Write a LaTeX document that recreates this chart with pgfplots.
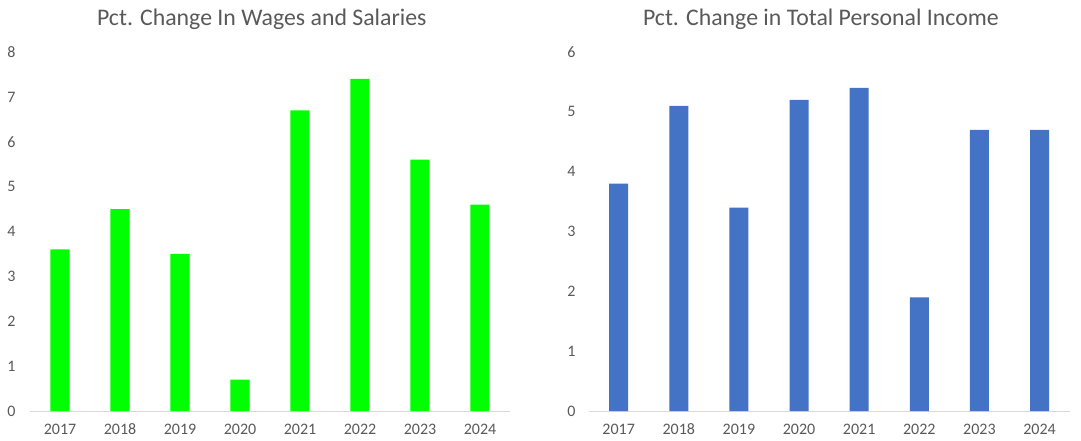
\documentclass[border=0pt]{standalone}
\usepackage{pgfplots}
\pgfplotsset{compat=1.18}
\usepackage{fontspec}
\setmainfont{Carlito}
\definecolor{txtgray}{HTML}{595959}
\definecolor{linegray}{HTML}{D9D9D9}
\definecolor{bargreen}{HTML}{00FF00}
\definecolor{barblue}{HTML}{4472C4}
\pgfplotsset{
  mybars/.style={
    scale only axis,
    anchor=south west,
    ybar,
    bar width=19pt,
    xmin=-0.5, xmax=7.5,
    ymin=0,
    xtick={0,...,7},
    xticklabels={2017,2018,2019,2020,2021,2022,2023,2024},
    axis lines*=left,
    x axis line style={draw=linegray, line width=0.9pt},
    y axis line style={draw=none},
    major tick length=0pt,
    tick label style={font=\fontsize{16}{18}\selectfont, text=txtgray},
    /pgf/number format/assume math mode=true,
    xticklabel style={yshift=-9pt, text height=11pt, text depth=0pt},
    title style={font=\fontsize{23.8}{27}\selectfont, text=txtgray, anchor=base, at={(rel axis cs:0.483,1.0585)}},
    clip=false,
  }
}
\begin{document}
\begin{tikzpicture}
\useasboundingbox (0pt,0pt) rectangle (1081pt,-440pt);
\begin{axis}[mybars,
  at={(30pt,-411pt)}, width=480pt, height=359pt,
  ymax=8, ytick={0,1,...,8},
  yticklabel style={xshift=-11pt},
  title={Pct. Change In Wages and Salaries}]
\addplot[fill=bargreen, draw=none] coordinates {(0,3.6) (1,4.5) (2,3.5) (3,0.7) (4,6.7) (5,7.4) (6,5.6) (7,4.6)};
\end{axis}
\begin{axis}[mybars,
  at={(588.6pt,-411pt)}, width=481pt, height=359pt,
  ymax=6, ytick={0,1,...,6},
  yticklabel style={xshift=-9.5pt},
  title={Pct. Change in Total Personal Income}]
\addplot[fill=barblue, draw=none] coordinates {(0,3.8) (1,5.1) (2,3.4) (3,5.2) (4,5.4) (5,1.9) (6,4.7) (7,4.7)};
\end{axis}
\end{tikzpicture}
\end{document}
